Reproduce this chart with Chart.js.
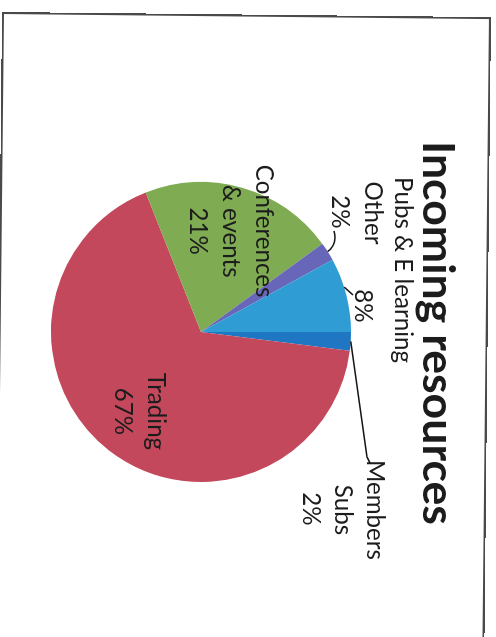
<!DOCTYPE html>
<html>
<head>
<meta charset="utf-8">
<script src="https://cdn.jsdelivr.net/npm/chart.js@4.4.1/dist/chart.umd.min.js"></script>
<style>
  html, body { margin: 0; padding: 0; background: #fff; overflow: hidden; }
  #page { position: relative; width: 496px; height: 637px; overflow: hidden; }
  #turn { position: absolute; left: 0; top: 0; width: 637px; height: 496px; transform-origin: 0 0; transform: translate(496px, 0) rotate(90deg); }
  #frame { position: absolute; left: 2px; top: 12px; width: 485px; height: 700px; border: 2px solid #4a4a4a; border-bottom: none; transform-origin: 0 0; transform: rotate(0.6deg); }
</style>
</head>
<body>
<div id="page">
  <div id="turn"><canvas id="incomeChart" width="637" height="496"></canvas></div>
  <div id="frame"></div>
</div>
<script>
const titleText = "Incoming resources";
const categories = ["Members\nSubs", "Trading", "Conferences\n& events", "Other", "Pubs & E learning"];
const values = [2, 67, 21, 2, 8];
const colors = ["#1f77c3", "#c3485c", "#7fab52", "#6766b8", "#2f9dd4"];

const fontFamily = "Lato, 'Open Sans', sans-serif";

// where each label goes (offsets from the pie centre, chart frame before rotation)
const placement = [
  { lines: [[178, -166], [178, -134], [177, -102]], leader: { da: 0, pts: [[125, -166], [131, -169]] } },
  { inside: 0.67 },
  { inside: 0.70 },
  { lines: [[-119, -164], [-120, -131]], leader: { da: 0, ctrl: [-88, -137], pts: [[-101, -133]] } },
  { lines: [[-62, -194], [-26, -154]], leader: { da: -3, pts: [[-37, -152]] } }
];

function fitSize(ctx, text, weight, target) {
  ctx.font = weight + " 100px " + fontFamily;
  return 100 * target / ctx.measureText(text).width;
}

const sliceLabels = {
  id: "sliceLabels",
  afterDatasetsDraw(chart) {
    const ctx = chart.ctx;
    const meta = chart.getDatasetMeta(0);
    const total = values.reduce((a, b) => a + b, 0);
    const cx = meta.data[0].x, cy = meta.data[0].y;
    const r = meta.data[0].outerRadius;

    ctx.save();
    ctx.fillStyle = "#1c1c1c";
    ctx.textAlign = "center";

    const titleSize = fitSize(ctx, titleText, "bold", 384);
    ctx.font = "bold " + titleSize + "px " + fontFamily;
    ctx.textBaseline = "alphabetic";
    ctx.fillText(titleText, cx + 1, 73);

    const labelSize = fitSize(ctx, "Pubs & E learning", "normal", 186);
    ctx.font = labelSize + "px " + fontFamily;

    meta.data.forEach((arc, i) => {
      const p = placement[i];
      const lines = categories[i].split("\n").concat(Math.round(values[i] / total * 100) + "%");
      const mid = (arc.startAngle + arc.endAngle) / 2;
      if (p.inside) {
        const ax = cx + Math.cos(mid) * r * p.inside;
        const ay = cy + Math.sin(mid) * r * p.inside;
        ctx.textBaseline = "middle";
        const lh = 33;
        lines.forEach((t, k) => {
          ctx.fillText(t, ax, ay + (k - (lines.length - 1) / 2) * lh);
        });
        return;
      }
      if (i === 4) {
        // "Pubs & E learning" sits on one line, the percentage below it
        lines.splice(0, lines.length, categories[i], lines[lines.length - 1]);
      }
      ctx.textBaseline = "alphabetic";
      lines.forEach((t, k) => {
        ctx.fillText(t, cx + p.lines[k][0], cy + p.lines[k][1]);
      });

      const L = p.leader;
      const a = mid + L.da * Math.PI / 180;
      ctx.beginPath();
      ctx.strokeStyle = "#151515";
      ctx.lineWidth = 1.5;
      ctx.moveTo(cx + Math.cos(a) * r, cy + Math.sin(a) * r);
      L.pts.forEach((pt, k) => {
        if (k === 0 && L.ctrl) {
          ctx.quadraticCurveTo(cx + L.ctrl[0], cy + L.ctrl[1], cx + pt[0], cy + pt[1]);
        } else {
          ctx.lineTo(cx + pt[0], cy + pt[1]);
        }
      });
      ctx.stroke();
    });
    ctx.restore();
  }
};

const ctx = document.getElementById("incomeChart").getContext("2d");
const chart = new Chart(ctx, {
  type: "pie",
  data: {
    labels: categories,
    datasets: [{
      data: values,
      backgroundColor: colors,
      borderWidth: 0,
      radius: 150
    }]
  },
  options: {
    responsive: false,
    animation: false,
    events: [],
    rotation: 0,
    layout: { padding: { left: 182, right: 155, top: 145, bottom: 51 } },
    plugins: {
      legend: { display: false },
      title: { display: false },
      tooltip: { enabled: false }
    }
  },
  plugins: [sliceLabels]
});
</script>
</body>
</html>
